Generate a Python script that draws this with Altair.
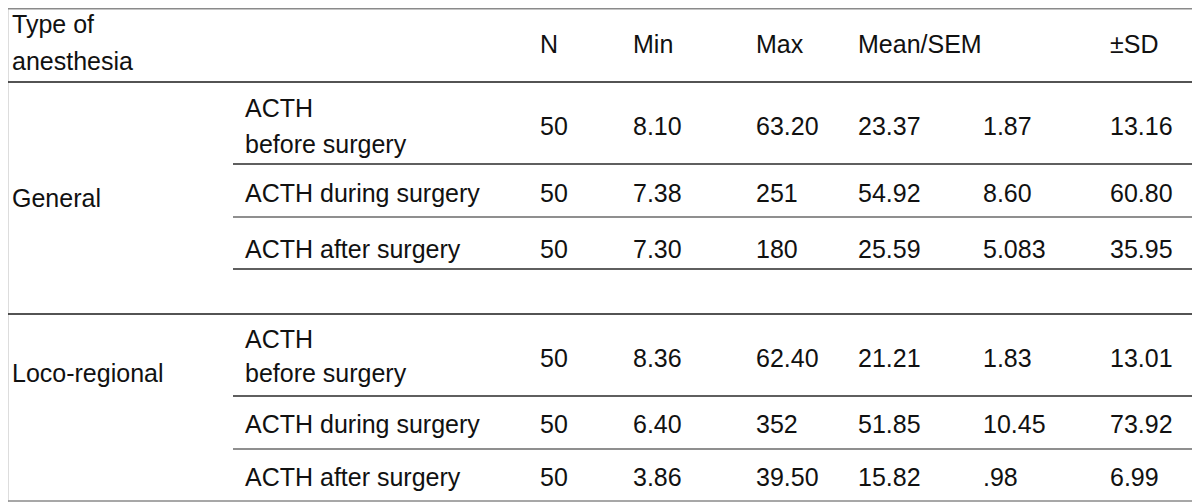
import altair as alt
import pandas as pd

# ---- table content ----
header_labels = ["Type of\nanesthesia", "", "N", "Min", "Max", "Mean/SEM", "", "\u00b1SD"]
groups = ["General", "Loco-regional"]
measures = ["ACTH\nbefore surgery", "ACTH during surgery", "ACTH after surgery"]
n_vals = ["50", "50", "50", "50", "50", "50"]
min_vals = ["8.10", "7.38", "7.30", "8.36", "6.40", "3.86"]
max_vals = ["63.20", "251", "180", "62.40", "352", "39.50"]
mean_vals = ["23.37", "54.92", "25.59", "21.21", "51.85", "15.82"]
sem_vals = ["1.87", "8.60", "5.083", "1.83", "10.45", ".98"]
sd_vals = ["13.16", "60.80", "35.95", "13.01", "73.92", "6.99"]

# ---- layout (pixel coordinates of the page) ----
FONT = "Liberation Sans"
FS = 25
col_x = [12, 245, 540, 633, 756, 858, 983, 1110]
header_base = 53
header_multi_base = [33, 70]
row_base = [135, 202, 258, 367, 433, 486]
measure_multi_base = {0: [117, 153], 3: [348, 382]}
group_base = [207, 382]

texts = []
# header
for ci, lab in enumerate(header_labels):
    if not lab:
        continue
    parts = lab.split("\n")
    if len(parts) > 1:
        for p, b in zip(parts, header_multi_base):
            texts.append({"x": col_x[ci], "y": b, "t": p})
    else:
        texts.append({"x": col_x[ci], "y": header_base, "t": lab})
# groups
for gi, g in enumerate(groups):
    texts.append({"x": col_x[0], "y": group_base[gi], "t": g})
# body rows
value_cols = [n_vals, min_vals, max_vals, mean_vals, sem_vals, sd_vals]
for ri in range(6):
    lab = measures[ri % 3]
    parts = lab.split("\n")
    if len(parts) > 1:
        for p, b in zip(parts, measure_multi_base[ri]):
            texts.append({"x": col_x[1], "y": b, "t": p})
    else:
        texts.append({"x": col_x[1], "y": row_base[ri], "t": lab})
    for vi, vals in enumerate(value_cols):
        texts.append({"x": col_x[2 + vi], "y": row_base[ri], "t": vals[ri]})

text_df = pd.DataFrame(texts)

# horizontal rules
rules = [
    {"y": 8.8, "x": 8, "x2": 1192, "c": "#8a8a8a"},
    {"y": 82, "x": 8, "x2": 1192, "c": "#1a1a1a"},
    {"y": 164, "x": 233, "x2": 1192, "c": "#2a2a2a"},
    {"y": 217, "x": 233, "x2": 1192, "c": "#6a6a6a"},
    {"y": 269, "x": 233, "x2": 1192, "c": "#2a2a2a"},
    {"y": 314, "x": 8, "x2": 1192, "c": "#1a1a1a"},
    {"y": 396, "x": 233, "x2": 1192, "c": "#2a2a2a"},
    {"y": 449, "x": 233, "x2": 1192, "c": "#6a6a6a"},
    {"y": 501, "x": 8, "x2": 1192, "c": "#8a8a8a"},
]
rule_df = pd.DataFrame(rules)

xs = alt.Scale(domain=[8, 1192])
ys = alt.Scale(domain=[8, 502], reverse=True)

rule_layer = alt.Chart(rule_df).mark_rule(strokeWidth=1.5).encode(
    x=alt.X("x:Q", scale=xs, axis=None),
    x2="x2:Q",
    y=alt.Y("y:Q", scale=ys, axis=None),
    color=alt.Color("c:N", scale=None),
)

text_layer = alt.Chart(text_df).mark_text(
    align="left", baseline="alphabetic", font=FONT, fontSize=FS, color="#111111"
).encode(
    x=alt.X("x:Q", scale=xs, axis=None),
    y=alt.Y("y:Q", scale=ys, axis=None),
    text="t:N",
)

chart = (
    alt.layer(rule_layer, text_layer)
    .properties(width=1184, height=494, autosize=alt.AutoSizeParams(type="none"), padding=0)
    .configure_view(stroke=None)
    .configure(background="white")
)

chart.save("out.html", embed_options={"renderer": "svg", "actions": False})
